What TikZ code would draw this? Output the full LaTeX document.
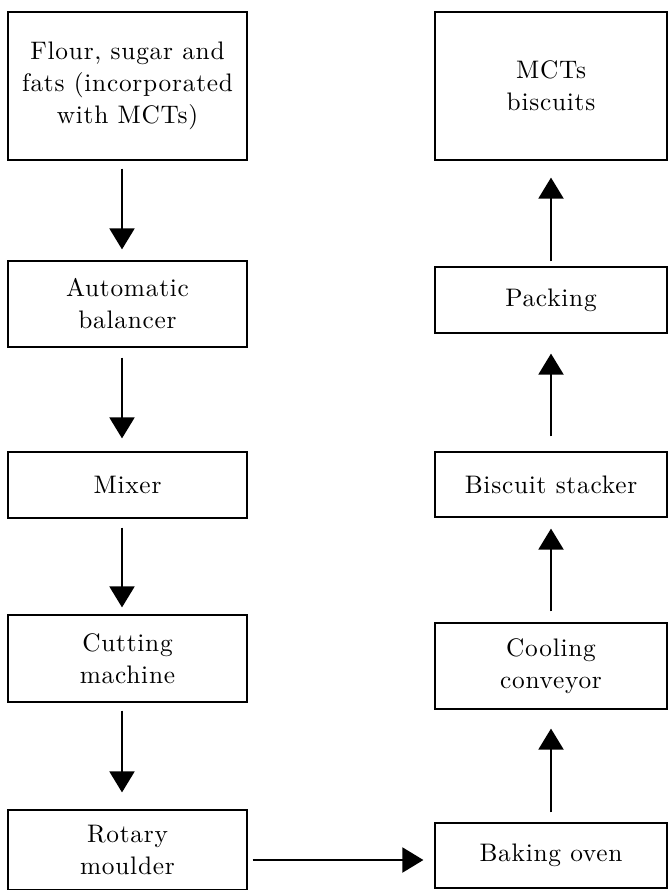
\documentclass[tikz,border=0pt]{standalone}
\usepackage{fontspec}
\setmainfont{lmroman10-regular.otf}[LetterSpace=3]
\usetikzlibrary{arrows.meta}
\begin{document}
\begin{tikzpicture}[x=0.75pt,y=-0.75pt,
  box/.style={draw, line width=0.9pt, align=center, inner sep=0pt, font=\fontsize{19}{24}\selectfont},
  lbox/.style={box, minimum width=179.25pt},
  rbox/.style={box, minimum width=174pt},
  arr/.style={line width=1.5pt, -{Triangle[length=15.75pt,width=18.75pt]}}]
\useasboundingbox (0,0) rectangle (670,890);
% left column
\node[lbox, minimum height=111pt] (flour) at (127.5,86) {Flour, sugar and\\fats (incorporated\\with MCTs)};
\node[lbox, minimum height=64.5pt] (bal) at (127.5,304) {Automatic\\balancer};
\node[lbox, minimum height=49.5pt] (mix) at (127.5,485) {Mixer};
\node[lbox, minimum height=65.25pt] (cut) at (127.5,658.5) {Cutting\\machine};
\node[lbox, minimum height=60pt] (rot) at (127.5,850) {Rotary\\moulder};
% right column
\node[rbox, minimum height=111pt] (mct) at (551,86) {MCTs\\biscuits};
\node[rbox, minimum height=49.5pt] (pack) at (551,300) {Packing};
\node[rbox, minimum height=48.75pt] (stack) at (551,484.5) {Biscuit stacker};
\node[rbox, minimum height=64.5pt] (cool) at (551,666) {Cooling\\conveyor};
\node[rbox, minimum height=48.75pt] (bake) at (551,855.5) {Baking oven};
% connectors
\coordinate (lx) at (122,0);
\coordinate (hy) at (0,860);
\draw[arr, shorten <=6pt, shorten >=8.25pt] (flour.south -| lx) -- (bal.north -| lx);
\draw[arr, shorten <=7.5pt, shorten >=9.75pt] (bal.south -| lx) -- (mix.north -| lx);
\draw[arr, shorten <=6.75pt, shorten >=5.25pt] (mix.south -| lx) -- (cut.north -| lx);
\draw[arr, shorten <=6pt, shorten >=12.75pt] (cut.south -| lx) -- (rot.north -| lx);
\draw[arr, shorten <=3.75pt, shorten >=8.25pt] (rot.east |- hy) -- (bake.west |- hy);
\draw[arr, shorten <=7.5pt, shorten >=14.25pt] (bake.north) -- (cool.south);
\draw[arr, shorten <=8.25pt, shorten >=8.25pt] (cool.north) -- (stack.south);
\draw[arr, shorten <=11.25pt, shorten >=15pt] (stack.north) -- (pack.south);
\draw[arr, shorten <=3.75pt, shorten >=12.75pt] (pack.north) -- (mct.south);
\end{tikzpicture}
\end{document}
